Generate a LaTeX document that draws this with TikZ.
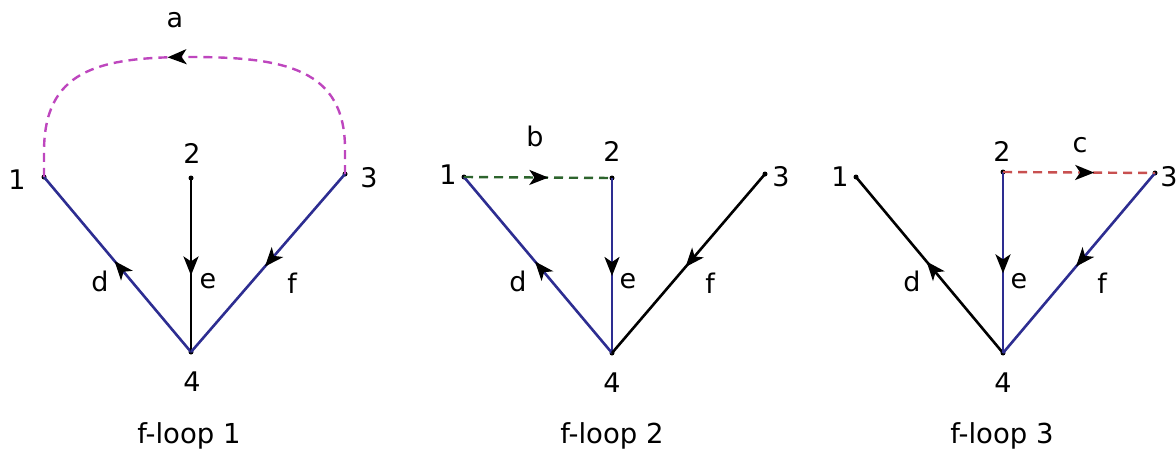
\documentclass[tikz,border=0pt]{standalone}
\usepackage{fontspec}
\setmainfont{DejaVu Sans}
\usetikzlibrary{arrows.meta,decorations.markings,calc}
\definecolor{navy}{RGB}{45,45,145}
\definecolor{magentaedge}{RGB}{190,70,190}
\definecolor{greenedge}{RGB}{45,100,45}
\definecolor{rededge}{RGB}{200,80,80}
\tikzset{
  vtx/.style={circle,fill=black,inner sep=0pt,minimum size=5pt},
  lbl/.style={inner sep=0pt,font=\fontsize{27}{32}\selectfont},
  captiontext/.style={inner sep=0pt,anchor=base,font=\fontsize{27.5}{32}\selectfont},
  solidedge/.style={line width=2.6pt},
  chord/.style={line width=2.4pt,dash pattern=on 9pt off 6pt},
  midarrow/.style={postaction={decorate},decoration={markings,
     mark=at position #1 with {\arrow{Stealth[length=19pt,width=15pt,inset=5pt,color=black]}}}},
  midarrow/.default=0.56
}
\begin{document}
\begin{tikzpicture}[x=1pt,y=-1pt]
\useasboundingbox (0,0) rectangle (1176,452);
% ---------- f-loop 1
\node[vtx] (p1) at (44,177) {};
\node[vtx] (p2) at (191,178) {};
\node[vtx] (p3) at (345,174) {};
\node[vtx] (p4) at (191,352) {};
\coordinate (ptop) at (190,57);
\node[lbl] (p1l) at (17,180) {1};
\node[lbl] (p2l) at (192,153) {2};
\node[lbl] (p3l) at (369,178) {3};
\node[lbl] (p4l) at (192,382) {4};
\node[lbl] (pa) at (175,20) {a};
\node[lbl] (pd) at (100,281) {d};
\node[lbl] (pe) at (208,281) {e};
\node[lbl] (pf) at (292,283) {f};
\node[captiontext] (pcap) at (189,443) {f-loop 1};
\draw[solidedge,navy,midarrow=0.52] (p4.center) -- (p1.center);
\draw[solidedge,black,midarrow] (p2.center) -- (p4.center);
\draw[solidedge,navy,midarrow=0.52] (p3.center) -- (p4.center);
\draw[chord,magentaedge,midarrow=0.555] (p3.center) -- ++(0,-25) .. controls +(0,-80) and +(95,0) .. (ptop)
   .. controls +(-95,0) and +(0,-80) .. ($(p1.center)+(0,-25)$) -- (p1.center);
% ---------- f-loop 2
\node[vtx] (q1) at (464,177) {};
\node[vtx] (q2) at (612,178) {};
\node[vtx] (q3) at (765,174) {};
\node[vtx] (q4) at (612,353) {};
\node[lbl] (q1l) at (448,175) {1};
\node[lbl] (q2l) at (612,151) {2};
\node[lbl] (q3l) at (781,177) {3};
\node[lbl] (q4l) at (612,383) {4};
\node[lbl] (qb) at (535,136) {b};
\node[lbl] (qd) at (518,281) {d};
\node[lbl] (qe) at (628,281) {e};
\node[lbl] (qf) at (710,283) {f};
\node[captiontext] (qcap) at (612,443) {f-loop 2};
\draw[solidedge,navy,midarrow=0.52] (q4.center) -- (q1.center);
\draw[solidedge,navy,midarrow] (q2.center) -- (q4.center);
\draw[solidedge,black,midarrow=0.52] (q3.center) -- (q4.center);
\draw[chord,greenedge,midarrow=0.57] (q1.center) -- (q2.center);
% ---------- f-loop 3
\node[vtx] (r1) at (856,177) {};
\node[vtx] (r2) at (1003,172) {};
\node[vtx] (r3) at (1155,173) {};
\node[vtx] (r4) at (1003,353) {};
\node[lbl] (r1l) at (840,177) {1};
\node[lbl] (r2l) at (1002,151) {2};
\node[lbl] (r3l) at (1169,177) {3};
\node[lbl] (r4l) at (1003,383) {4};
\node[lbl] (rc) at (1080,145) {c};
\node[lbl] (rd) at (912,281) {d};
\node[lbl] (re) at (1019,281) {e};
\node[lbl] (rf) at (1102,283) {f};
\node[captiontext] (rcap) at (1002,443) {f-loop 3};
\draw[solidedge,black,midarrow=0.52] (r4.center) -- (r1.center);
\draw[solidedge,navy,midarrow] (r2.center) -- (r4.center);
\draw[solidedge,navy,midarrow=0.52] (r3.center) -- (r4.center);
\draw[chord,rededge,midarrow=0.6] (r2.center) -- (r3.center);
\end{tikzpicture}
\end{document}
